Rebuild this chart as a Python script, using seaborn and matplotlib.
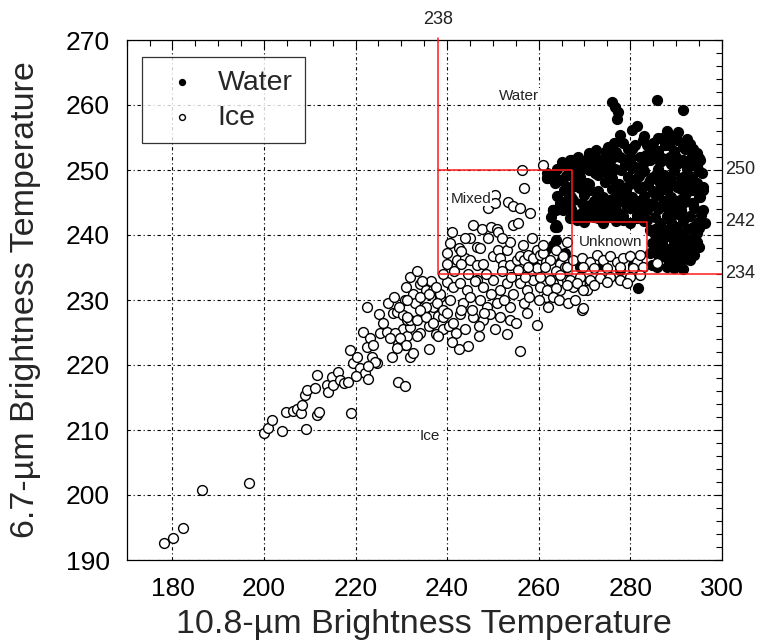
import matplotlib
matplotlib.use("Agg")
import matplotlib.pyplot as plt
from matplotlib.ticker import MultipleLocator
import seaborn as sns
import pandas as pd

# Ice cloud pixels: 10.8-um and 6.7-um brightness temperatures (K)
ice_tb108 = [
    178.2, 180.2, 182.2, 186.4, 196.7, 200.0, 200.8, 201.8, 204.0, 204.7,
    206.4, 207.1, 208.1, 208.4, 209.0, 209.2, 209.3, 211.1, 211.6, 211.5,
    212.1, 213.7, 214.0, 214.8, 215.1, 216.1, 216.6, 217.5, 218.4, 218.9,
    218.8, 219.5, 220.3, 221.0, 222.1, 222.8, 221.7, 222.4, 225.2, 222.4,
    223.2, 223.9, 224.6, 225.3, 226.8, 227.9, 228.2, 229.0, 229.3, 230.8,
    230.4, 231.2, 231.9, 231.9, 232.6, 230.8, 230.8, 233.7, 228.6, 229.3,
    227.5, 230.4, 231.2, 229.7, 231.0, 223.5, 224.2, 229.0, 220.1, 222.8,
    232.5, 234.0, 235.5, 236.5, 233.0, 235.0, 237.0, 238.0, 236.0, 234.0,
    232.0, 233.5, 237.5, 239.0, 240.5, 242.0, 244.5, 241.0, 236.0, 238.5,
    244.0, 247.0, 250.5, 253.0, 255.9,
    261.0, 256.3, 256.7, 250.5, 249.0, 250.5, 253.4, 254.5, 255.9, 258.1,
    245.7, 247.6, 249.7, 250.8, 251.2, 254.5, 255.6, 245.0, 246.5, 247.2,
    242.7, 240.6, 239.9, 242.1, 243.9, 245.0, 246.5, 247.9, 250.1, 251.2,
    253.0, 253.7, 251.6, 252.3, 253.7, 255.2, 255.9, 256.7, 257.7, 258.8,
    259.6, 260.3, 261.7, 263.2, 264.7, 263.9, 265.8, 266.1, 259.6, 257.7,
    255.6,
    231.2, 234.1, 235.5, 237.0, 238.5, 237.7, 239.9, 241.4, 240.6, 242.8,
    244.3, 243.5, 245.0, 246.5, 247.9, 247.2, 248.7, 250.1, 251.6, 250.8,
    253.0, 254.5, 253.7, 255.9, 257.4, 256.7, 258.8, 260.3, 261.7, 263.2,
    264.7, 266.1, 267.6, 269.0, 270.5, 269.4, 259.6, 231.2, 233.4, 235.5,
    237.0, 239.2, 241.4, 242.8, 245.7, 247.9, 249.4, 251.6, 239.2, 234.1,
    253.7,
    261.0, 262.5, 261.4, 263.9, 265.4, 266.1, 267.6, 269.4, 271.2, 272.7,
    274.1, 275.6, 277.1, 278.5, 280.0, 281.4, 282.2, 282.9, 269.8, 272.0,
    274.9, 277.8, 280.7, 260.3, 262.5, 264.7, 266.9, 269.0, 271.2, 273.4,
    275.6, 277.8, 280.0, 282.2, 261.8, 263.9, 266.1, 268.3, 269.8, 272.0,
    274.9, 279.2, 263.2, 269.8, 285.8,
    226.0, 227.0, 228.5, 229.5, 231.0, 232.0, 233.5, 234.5, 236.0, 237.5,
    239.0, 240.0, 241.5, 243.0, 244.5, 246.0, 248.5, 249.5, 252.0, 254.0,
    257.0, 258.0, 260.0, 262.0, 264.5, 266.5, 268.0, 243.0, 245.5, 248.0,
    240.0, 238.0, 242.5, 247.0, 255.0, 257.5, 252.5, 243.0, 241.0, 244.0,
    249.0, 252.0, 256.5, 258.5, 261.0,
]
ice_tb67 = [
    192.6, 193.4, 195.0, 200.8, 201.9, 209.5, 210.3, 211.6, 209.8, 212.8,
    213.0, 213.3, 212.6, 213.8, 215.4, 210.2, 216.2, 216.4, 218.5, 212.3,
    212.7, 216.9, 215.9, 218.2, 216.9, 219.0, 217.7, 217.2, 217.4, 212.6,
    222.3, 220.3, 221.3, 219.5, 218.7, 217.8, 225.1, 229.0, 227.8, 222.8,
    224.1, 223.1, 220.3, 224.9, 225.1, 221.3, 228.0, 228.1, 217.4, 216.8,
    225.6, 224.4, 225.9, 221.3, 221.8, 223.1, 230.0, 230.1, 224.9, 223.3,
    224.1, 227.7, 226.9, 224.1, 223.1, 221.3, 220.5, 222.6, 218.3, 219.8,
    231.0, 232.5, 231.5, 233.0, 229.5, 228.0, 229.0, 227.5, 226.0, 225.0,
    227.0, 224.5, 224.8, 225.5, 226.0, 225.0, 223.0, 223.5, 222.5, 230.5,
    225.5, 224.5, 225.5, 224.8, 222.2,
    250.8, 250.0, 247.2, 246.2, 244.1, 244.9, 245.1, 244.4, 244.1, 243.4,
    241.5, 241.0, 241.3, 241.0, 240.5, 241.5, 241.8, 239.5, 238.2, 238.0,
    238.0, 238.7, 237.2, 236.2, 236.4, 236.2, 235.4, 235.6, 236.7, 237.7,
    237.7, 239.0, 236.4, 235.4, 235.4, 236.2, 236.7, 236.2, 236.9, 236.4,
    237.7, 236.9, 235.9, 236.7, 235.6, 234.4, 235.1, 239.0, 234.9, 235.1,
    234.6,
    230.0, 230.5, 229.0, 231.5, 231.0, 229.5, 232.8, 232.0, 230.0, 232.6,
    231.5, 229.5, 230.5, 233.1, 232.0, 230.0, 229.0, 233.1, 231.5, 229.5,
    232.6, 231.0, 229.0, 232.6, 231.5, 229.5, 233.1, 232.0, 230.5, 232.6,
    231.5, 233.1, 232.0, 232.6, 231.5, 228.5, 226.2, 227.4, 226.9, 227.4,
    226.4, 227.4, 226.4, 227.9, 227.4, 226.9, 227.9, 227.4, 228.5, 228.5,
    226.9,
    237.2, 236.2, 235.1, 237.7, 236.7, 235.1, 236.2, 236.4, 235.9, 236.9,
    236.2, 236.7, 235.9, 236.4, 236.7, 235.9, 236.9, 235.1, 235.1, 234.9,
    234.9, 235.1, 234.9, 233.6, 233.1, 233.9, 233.1, 233.6, 233.1, 233.4,
    233.6, 233.1, 233.6, 233.9, 231.6, 231.8, 232.3, 232.6, 231.6, 232.3,
    232.8, 232.6, 230.5, 228.7, 235.7,
    226.5, 229.5, 230.5, 229.0, 232.0, 233.5, 234.5, 233.0, 231.0, 232.0,
    234.0, 235.5, 234.5, 235.5, 234.0, 233.0, 234.0, 231.0, 234.5, 233.5,
    233.5, 230.5, 230.0, 229.0, 230.0, 229.5, 230.0, 228.5, 228.5, 228.0,
    228.0, 224.5, 222.5, 226.0, 226.5, 228.0, 230.0, 237.5, 240.5, 239.5,
    239.5, 239.5, 238.5, 239.5, 238.5,
]

# Water cloud pixels
water_tb108 = [
    276.0, 276.7, 277.4, 277.1, 285.8, 291.6, 281.4, 277.8, 278.5, 279.6,
    275.2, 274.5, 282.9, 283.6, 284.3, 286.9, 287.6, 289.1, 290.2, 291.6,
    293.8, 294.5, 295.3, 266.9, 270.9, 272.0, 273.4, 274.9, 269.8, 270.9,
    272.3, 273.8, 275.2, 276.7, 277.8, 278.9, 280.0, 281.1, 282.2, 282.9,
    284.3, 285.8, 287.2, 288.7, 290.2, 291.6, 293.1, 294.5, 295.6,
    262.5, 261.8, 267.6, 269.8, 271.2, 272.7, 274.1, 275.6, 277.1, 278.5,
    280.0, 281.4, 282.9, 284.3, 285.8, 287.2, 288.7, 290.2, 291.6, 293.1,
    294.5, 296.0, 295.3, 293.8, 292.3, 290.9, 289.4, 288.0, 286.5, 285.1,
    283.6, 282.2, 280.7, 279.2, 277.8, 276.3, 274.9, 273.4, 272.0, 270.5,
    269.0, 267.6, 267.2, 263.2, 265.4,
    267.2, 261.8, 263.6, 263.2, 265.4, 264.0, 263.2, 265.8, 264.0, 281.8,
    296.3,
    263.2, 264.7, 271.2, 274.9, 277.1, 280.7, 283.6, 287.2, 289.4, 291.6,
    292.3, 293.8, 263.9,
    285.1, 286.5, 288.0, 289.4, 290.9, 292.3, 291.6, 289.4, 288.0, 286.5,
    285.8, 288.0, 290.2, 290.9, 293.8, 294.5, 285.1, 293.1, 286.2, 284.7,
    269.0, 274.1, 277.8, 280.7,
    266.9, 268.3, 269.8, 273.0, 275.6, 278.5, 281.4, 283.6, 284.3, 284.7,
    284.3,
    261.8, 263.2, 264.7, 263.9, 262.8, 263.6, 263.9, 262.8, 261.8, 258.8,
    263.9, 266.1, 266.1, 266.1, 267.6, 269.0, 270.5, 272.7, 272.0, 270.5,
    272.7,
    280.5, 288.0, 290.5, 283.0, 286.0, 292.5, 276.5, 281.0, 285.0, 288.5,
    293.0, 272.5, 277.0, 280.5, 286.0, 289.5, 292.0, 268.5, 271.0, 276.0,
    280.0, 283.5, 287.0, 290.0, 293.5, 295.0, 265.0, 268.0, 271.5, 275.5,
    279.0, 286.5, 289.0, 292.0, 294.5, 264.0, 267.5, 271.5, 274.0, 278.0,
    280.5, 283.0, 286.0, 289.5, 292.5, 295.0, 266.0, 269.0, 273.0, 276.0,
    279.5, 282.0, 285.0, 287.5, 291.0, 293.5, 263.5, 268.0, 271.0, 274.5,
    277.5, 281.0, 284.0, 286.5, 289.0, 292.0, 294.5, 265.5, 269.0, 273.0,
    276.0, 279.0, 282.0, 285.0, 288.0, 291.0, 293.5, 296.0, 264.0, 267.0,
    270.0, 274.0, 277.0, 280.5, 283.0, 286.0, 289.0, 292.0, 295.0, 266.0,
    269.5, 272.0, 276.0, 279.0, 282.0, 285.0, 287.5, 291.0, 293.5, 267.0,
    270.0, 273.5, 277.0, 280.0, 283.0, 286.0, 288.5, 291.0, 294.0, 296.0,
    268.5, 272.0, 275.5, 278.5, 281.5, 285.5, 288.0, 290.5, 293.0, 295.5,
    270.0, 274.0, 277.0, 280.0, 283.0, 286.5, 289.0, 291.5, 294.5, 285.5,
    287.5, 290.0, 292.5, 295.0, 286.0, 288.5, 291.5, 294.0, 287.0, 289.5,
    292.0, 294.5, 285.5, 288.0, 290.5, 293.0, 295.0, 287.0, 289.5, 292.0,
    294.0, 288.5, 291.0, 293.0, 289.5, 291.5,
]
water_tb67 = [
    260.5, 259.7, 259.0, 257.9, 260.8, 259.2, 256.7, 255.4, 254.1, 253.3,
    253.6, 252.8, 254.6, 253.8, 253.1, 254.9, 253.8, 255.1, 254.6, 253.6,
    253.3, 252.6, 251.5, 251.5, 252.6, 252.0, 251.5, 251.3, 251.3, 250.0,
    249.5, 250.0, 249.7, 250.2, 252.0, 251.0, 251.5, 250.5, 252.0, 251.0,
    251.5, 252.0, 251.5, 252.0, 251.0, 251.5, 251.0, 250.5, 249.5,
    248.7, 249.5, 249.2, 247.4, 246.9, 245.9, 244.6, 245.4, 246.9, 245.9,
    247.9, 248.7, 247.4, 248.5, 249.5, 248.0, 249.0, 247.4, 249.0, 248.0,
    246.9, 247.4, 245.9, 244.9, 246.4, 245.4, 244.4, 245.4, 246.9, 246.4,
    244.9, 244.3, 245.4, 244.3, 243.3, 243.8, 243.1, 243.3, 243.8, 242.8,
    243.3, 245.4, 247.4, 243.8, 244.1,
    251.6, 248.7, 249.0, 243.8, 243.8, 241.3, 238.5, 237.2, 236.7, 231.8,
    241.9,
    243.9, 244.9, 244.6, 243.6, 244.9, 244.4, 243.9, 244.4, 243.3, 244.9,
    242.8, 241.3, 241.6,
    240.3, 239.2, 240.8, 239.8, 240.5, 238.7, 237.2, 237.7, 236.7, 237.7,
    235.1, 235.1, 235.7, 239.2, 239.2, 240.3, 237.7, 237.2, 236.4, 235.4,
    235.1, 235.4, 234.6, 235.4,
    242.6, 242.3, 242.8, 242.6, 242.8, 242.3, 242.6, 242.3, 240.8, 238.7,
    237.2,
    248.7, 249.2, 248.5, 243.8, 242.8, 241.3, 239.2, 237.7, 236.2, 235.6,
    237.2, 250.5, 247.4, 245.4, 251.5, 250.0, 248.0, 251.0, 244.9, 243.3,
    242.8,
    256.2, 256.0, 255.8, 255.2, 255.0, 254.8, 254.1, 253.9, 254.2, 253.8,
    254.0, 253.1, 252.8, 253.2, 252.9, 253.0, 253.3, 252.0, 252.2, 251.8,
    252.1, 252.3, 251.9, 252.0, 252.2, 251.8, 251.2, 250.9, 251.1, 250.8,
    251.0, 251.2, 250.9, 251.1, 250.8, 250.1, 249.8, 250.2, 249.9, 250.0,
    250.3, 249.8, 250.1, 249.9, 250.2, 249.8, 249.1, 248.9, 249.2, 248.8,
    249.0, 249.1, 248.9, 249.2, 248.8, 249.0, 248.0, 248.2, 247.8, 248.1,
    247.9, 248.2, 247.8, 248.0, 248.1, 247.9, 248.0, 247.0, 247.2, 246.8,
    247.1, 246.9, 247.2, 246.8, 247.0, 247.1, 246.9, 247.0, 246.0, 245.8,
    246.2, 245.9, 246.1, 245.8, 246.0, 246.2, 245.9, 246.1, 245.8, 245.1,
    244.9, 245.2, 244.8, 245.0, 245.2, 244.9, 245.1, 244.8, 245.0, 244.0,
    243.8, 244.2, 243.9, 244.1, 243.8, 244.0, 244.2, 243.9, 244.1, 243.8,
    243.0, 242.8, 243.2, 242.9, 243.1, 242.8, 243.0, 243.2, 242.9, 243.1,
    242.0, 241.8, 242.2, 241.9, 242.1, 241.8, 242.0, 242.2, 241.9, 241.0,
    240.8, 241.2, 240.9, 241.1, 240.0, 239.8, 240.2, 239.9, 239.0, 238.8,
    239.2, 238.9, 238.0, 237.8, 238.2, 237.9, 238.1, 237.0, 236.8, 237.2,
    236.9, 236.0, 235.8, 236.2, 235.0, 234.8,
]

# Classification thresholds (K)
tb108_split = 238
tb67_splits = [250, 242, 234]
mixed_right = 267.4
unknown_right = 283.7

# Region names and their anchor positions (tb108, tb67)
region_names = ["Water", "Mixed", "Unknown", "Ice"]
region_x = [255.8, 245.2, 275.7, 236.3]
region_y = [261.4, 245.6, 238.9, 209.1]

x_ticks = [180, 200, 220, 240, 260, 280, 300]
y_ticks = [190, 200, 210, 220, 230, 240, 250, 260, 270]

water_df = pd.DataFrame({"tb108": water_tb108, "tb67": water_tb67})
ice_df = pd.DataFrame({"tb108": ice_tb108, "tb67": ice_tb67})

sns.set_style("white")
plt.rcParams["font.family"] = ["Liberation Sans", "DejaVu Sans"]

fig = plt.figure(figsize=(7.59, 6.43), dpi=100)
ax = fig.add_axes([126.7 / 759, 83 / 643, 595 / 759, 520 / 643])

sns.scatterplot(data=water_df, x="tb108", y="tb67", ax=ax, color="black",
                edgecolor="black", linewidth=1.0, s=50, label="Water",
                zorder=3)
sns.scatterplot(data=ice_df, x="tb108", y="tb67", ax=ax, color="white",
                edgecolor="black", linewidth=1.0, s=50, label="Ice",
                zorder=4)

ax.set_xlim(170, 300)
ax.set_ylim(190, 270)
ax.set_xticks(x_ticks)
ax.set_yticks(y_ticks)
ax.xaxis.set_minor_locator(MultipleLocator(5))
ax.yaxis.set_minor_locator(MultipleLocator(2))
ax.tick_params(which="both", direction="in", top=True, right=True,
               color="black", width=0.8)
ax.tick_params(which="major", length=6, pad=12, labelsize=19,
               labelcolor="black")
ax.tick_params(which="minor", length=4)
ax.grid(True, which="major", color="black", linewidth=0.8,
        linestyle=(0, (3, 2.5, 1, 2.5)))
ax.set_axisbelow(True)
for sp in ax.spines.values():
    sp.set_color("black")
    sp.set_linewidth(0.9)

ax.set_xlabel("10.8-\u00b5m Brightness Temperature", fontsize=24.5,
              labelpad=6)
ax.set_ylabel("6.7-\u00b5m Brightness Temperature", fontsize=24.5,
              labelpad=18)

# Threshold lines
red = "#ff1a1a"
lw = 1.1
ax.plot([tb108_split, tb108_split], [tb67_splits[2], 270.3], color=red,
        lw=lw, zorder=5, clip_on=False)
ax.plot([tb108_split, 300], [tb67_splits[2], tb67_splits[2]], color=red,
        lw=lw, zorder=5)
ax.plot([tb108_split, mixed_right, mixed_right],
        [tb67_splits[0], tb67_splits[0], tb67_splits[2]], color=red,
        lw=lw, zorder=5)
ax.plot([mixed_right, unknown_right, unknown_right, mixed_right],
        [tb67_splits[1], tb67_splits[1], tb67_splits[2] + 0.4,
         tb67_splits[2] + 0.4], color=red, lw=lw, zorder=5)

# Threshold values
ax.text(tb108_split, 273.2, str(tb108_split), ha="center", va="center",
        fontsize=13, color="#222222", clip_on=False)
for v in tb67_splits:
    ax.text(300.7, v, str(v), ha="left", va="center", fontsize=13,
            color="#222222", clip_on=False)

for name, xv, yv in zip(region_names, region_x, region_y):
    ax.text(xv, yv, name, ha="center", va="center", fontsize=11,
            color="#222222", zorder=6,
            bbox=dict(facecolor="white", edgecolor="none", pad=0.5))

leg = ax.legend(loc="upper left", bbox_to_anchor=(0.026, 0.967),
                borderaxespad=0, fontsize=20.5, markerscale=0.6,
                frameon=True, fancybox=False, edgecolor="black",
                handletextpad=0.3, borderpad=0.45, labelspacing=0.3,
                handlelength=1.9)
leg.get_frame().set_linewidth(0.9)

fig.savefig("out.png", dpi=100)
